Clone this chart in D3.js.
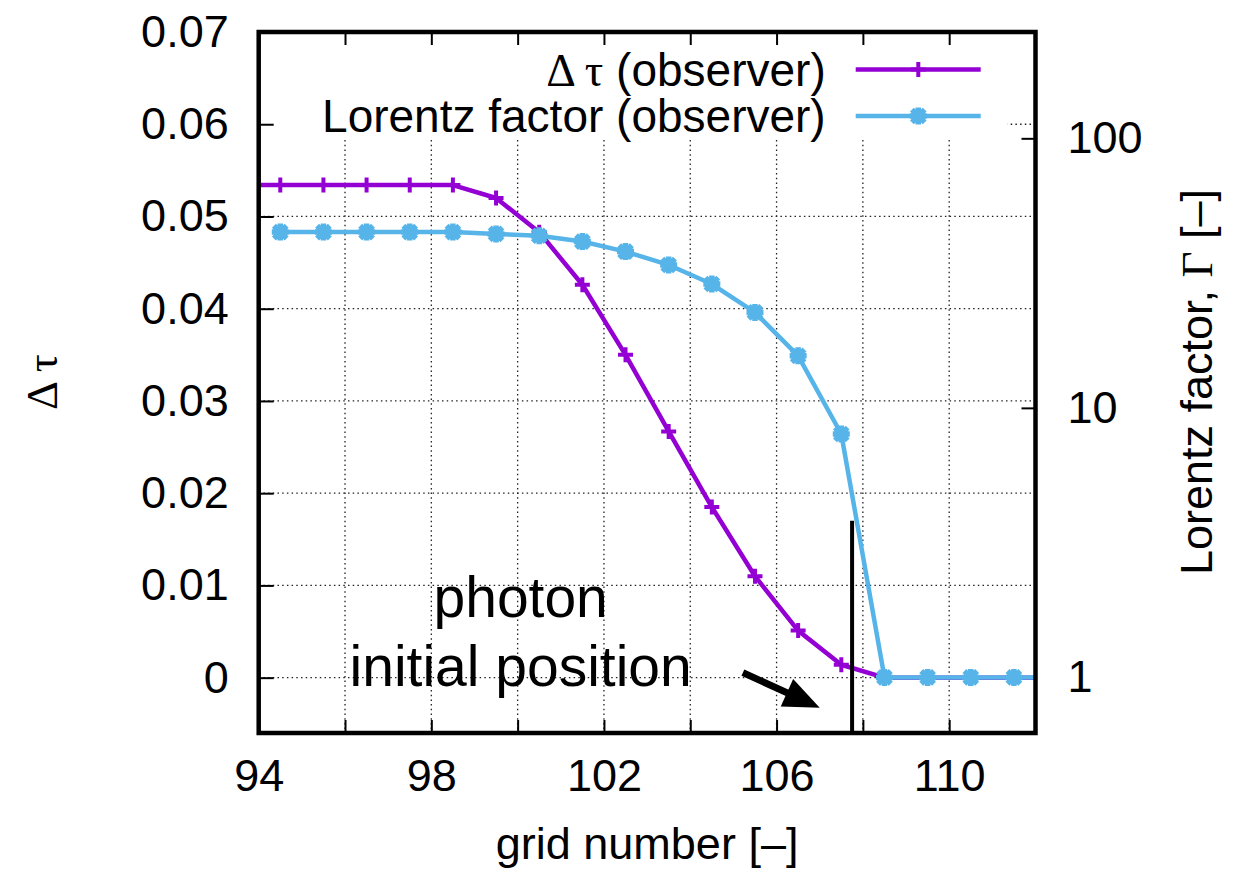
<!DOCTYPE html>
<html>
<head>
<meta charset="utf-8">
<script src="https://cdn.jsdelivr.net/npm/d3@7"></script>
<style>
  body { margin: 0; background: #fff; }
  text { font-family: "Liberation Sans", Arial, Helvetica, sans-serif; fill: #000; }
  .greek { font-family: "Liberation Serif", "DejaVu Serif", serif; }
</style>
</head>
<body>
<div id="chart"></div>
<script>
// frame of the plot (pixels)
const margin = { top: 32, right: 205.5, bottom: 141, left: 258.7 };
const W = 1241, H = 874;
const width = W - margin.left - margin.right;
const height = H - margin.top - margin.bottom;

// data
const gridNumber = [93.5, 94.5, 95.5, 96.5, 97.5, 98.5, 99.5, 100.5, 101.5, 102.5,
                    103.5, 104.5, 105.5, 106.5, 107.5, 108.5, 109.5, 110.5, 111.5, 112.5];
const dTau = [0.0534, 0.0534, 0.0534, 0.0534, 0.0534, 0.0534, 0.0520, 0.0483, 0.0426, 0.0350,
              0.0267, 0.0185, 0.0110, 0.0051, 0.0014, 0, 0, 0, 0, 0];
const lorentz = [null, 44.9, 44.9, 44.9, 44.9, 44.9, 44.2, 43.5, 41.4, 38.0,
                 33.9, 28.8, 22.6, 15.6, 8.0, 1, 1, 1, 1, 1];

// ticks
const xTicks = [94, 96, 98, 100, 102, 104, 106, 108, 110, 112];
const xLabels = [94, 98, 102, 106, 110];
const yTicks = [0, 0.01, 0.02, 0.03, 0.04, 0.05, 0.06, 0.07];
const y2Ticks = [1, 10, 100];
const xGrid = [96, 98, 100, 102, 104, 106, 108, 110];
const yGrid = [0, 0.01, 0.02, 0.03, 0.04, 0.05, 0.06];

// annotation: photon initial position
const photonX = 107.75, photonTop = 0.017;
const arrowFrom = [105.22, 0.00054], arrowTo = [107.0, -0.00325];
const noteX = 100.07, noteLines = [["photon", 0.0066], ["initial position", -0.0009]];

const purple = "#9400D3", blue = "#56B4E9";

const x = d3.scaleLinear().domain([94, 112]).range([0, width]);
const y = d3.scaleLinear().domain([-0.006, 0.07]).range([height, 0]);
const y2 = d3.scaleLog().domain([0.622, 248]).range([height, 0]);

const svg = d3.select("#chart")
  .append("svg")
    .attr("width", W)
    .attr("height", H)
  .append("g")
    .attr("transform", `translate(${margin.left},${margin.top})`);

svg.append("clipPath").attr("id", "clip")
  .append("rect").attr("width", width).attr("height", height);

// grid
const grid = svg.append("g")
  .attr("stroke", "#222")
  .attr("stroke-width", 1.3)
  .attr("stroke-dasharray", "1.5,3.2");
grid.selectAll(".vg").data(xGrid).join("line")
  .attr("x1", d => x(d)).attr("x2", d => x(d))
  .attr("y1", 0).attr("y2", height);
grid.selectAll(".hg").data(yGrid).join("line")
  .attr("x1", 0).attr("x2", width)
  .attr("y1", d => y(d)).attr("y2", d => y(d));

// opaque key box
svg.append("rect")
  .attr("x", 0).attr("y", 0)
  .attr("width", 749).attr("height", 108)
  .attr("fill", "#fff");

// axes with inward ticks
const tickStyle = g => {
  g.select(".domain").remove();
  g.selectAll(".tick line").attr("stroke", "#000").attr("stroke-width", 2);
  g.selectAll("text").attr("font-size", 45).attr("fill", "#000")
    .attr("font-family", "Liberation Sans, Arial, sans-serif");
};

svg.append("g")
  .attr("transform", `translate(0,${height})`)
  .call(d3.axisBottom(x).tickValues(xTicks).tickSize(-13).tickPadding(26)
    .tickFormat(d => xLabels.includes(d) ? d : ""))
  .call(tickStyle);

svg.append("g")
  .call(d3.axisTop(x).tickValues(xTicks).tickSize(-13).tickFormat(""))
  .call(tickStyle);

svg.append("g")
  .call(d3.axisLeft(y).tickValues(yTicks).tickSize(-15).tickPadding(30)
    .tickFormat(d => d === 0 ? "0" : d3.format(".2f")(d)))
  .call(tickStyle);

svg.append("g")
  .attr("transform", `translate(${width},0)`)
  .call(d3.axisRight(y2).tickValues(y2Ticks).tickSize(-14).tickPadding(32)
    .tickFormat(d3.format("d")))
  .call(tickStyle);

// markers
const plusPath = s => `M${-s},0H${s}M0,${-s}V${s}`;
const starPath = s => {
  const d = s * 0.75;
  return `M${-s},0H${s}M0,${-s}V${s}M${-d},${-d}L${d},${d}M${-d},${d}L${d},${-d}`;
};

const rows = gridNumber.map((g, i) => ({ g, tau: dTau[i], gam: lorentz[i] }));
const plot = svg.append("g").attr("clip-path", "url(#clip)");

const lineTau = d3.line().x(d => x(d.g)).y(d => y(d.tau));
const lineGam = d3.line().defined(d => d.gam != null).x(d => x(d.g)).y(d => y2(d.gam));

plot.append("path").datum(rows)
  .attr("fill", "none").attr("stroke", purple).attr("stroke-width", 4.5)
  .attr("stroke-linejoin", "round").attr("d", lineTau);
plot.selectAll(".pt").data(rows).join("path")
  .attr("transform", d => `translate(${x(d.g)},${y(d.tau)})`)
  .attr("d", plusPath(7.5)).attr("stroke", purple).attr("stroke-width", 4);

const gamRows = rows.filter(d => d.gam != null);
plot.append("path").datum(rows)
  .attr("fill", "none").attr("stroke", blue).attr("stroke-width", 4.5)
  .attr("stroke-linejoin", "round").attr("d", lineGam);
plot.selectAll(".pg").data(gamRows).join("path")
  .attr("transform", d => `translate(${x(d.g)},${y2(d.gam)})`)
  .attr("d", starPath(8.5)).attr("stroke", blue).attr("stroke-width", 5.5);

// photon initial position marker
svg.append("line")
  .attr("x1", x(photonX)).attr("x2", x(photonX))
  .attr("y1", y(photonTop)).attr("y2", height)
  .attr("stroke", "#000").attr("stroke-width", 4);

const [ax0, ay0] = [x(arrowFrom[0]), y(arrowFrom[1])];
const [ax1, ay1] = [x(arrowTo[0]), y(arrowTo[1])];
const len = Math.hypot(ax1 - ax0, ay1 - ay0);
const ux = (ax1 - ax0) / len, uy = (ay1 - ay0) / len;
const headL = 36, headW = 15;
const bx = ax1 - ux * headL, by = ay1 - uy * headL;
svg.append("line")
  .attr("x1", ax0).attr("y1", ay0).attr("x2", bx + ux * 4).attr("y2", by + uy * 4)
  .attr("stroke", "#000").attr("stroke-width", 7);
svg.append("path")
  .attr("d", `M${ax1},${ay1}L${bx - uy * headW},${by + ux * headW}L${bx + uy * headW},${by - ux * headW}Z`)
  .attr("fill", "#000");

svg.selectAll(".note").data(noteLines).join("text")
  .attr("x", x(noteX)).attr("y", d => y(d[1]))
  .attr("text-anchor", "middle").attr("font-size", 57)
  .text(d => d[0]);

// key
const key = svg.append("g");
const keyRows = [
  { color: purple, marker: plusPath(7.5), mw: 4, ly: 37.5 },
  { color: blue, marker: starPath(8.5), mw: 5.5, ly: 84 }
];
keyRows.forEach(k => {
  key.append("line").attr("x1", 597).attr("x2", 722)
    .attr("y1", k.ly).attr("y2", k.ly)
    .attr("stroke", k.color).attr("stroke-width", 4.5);
  key.append("path").attr("transform", `translate(659.6,${k.ly})`)
    .attr("d", k.marker).attr("stroke", k.color).attr("stroke-width", k.mw);
});
const t1 = key.append("text").attr("x", 567).attr("y", 37.5 + 16)
  .attr("text-anchor", "end").attr("font-size", 46);
t1.append("tspan").attr("class", "greek").text("\u0394 \u03c4");
t1.append("tspan").text(" (observer)");
key.append("text").attr("x", 567).attr("y", 84 + 16)
  .attr("text-anchor", "end").attr("font-size", 46)
  .text("Lorentz factor (observer)");

// frame
svg.append("rect")
  .attr("width", width).attr("height", height)
  .attr("fill", "none").attr("stroke", "#000").attr("stroke-width", 4.5);

// axis titles
svg.append("text")
  .attr("x", x(103)).attr("y", height + 126)
  .attr("text-anchor", "middle").attr("font-size", 45)
  .text("grid number [\u2013]");

svg.append("text")
  .attr("class", "greek")
  .attr("transform", `translate(${57 - margin.left},${382 - margin.top}) rotate(-90)`)
  .attr("text-anchor", "middle").attr("font-size", 45)
  .text("\u0394 \u03c4");

const rt = svg.append("text")
  .attr("transform", `translate(${1212 - margin.left},${382 - margin.top}) rotate(-90)`)
  .attr("text-anchor", "middle").attr("font-size", 45);
rt.append("tspan").text("Lorentz factor, ");
rt.append("tspan").attr("class", "greek").text("\u0393");
rt.append("tspan").text(" [\u2013]");
</script>
</body>
</html>
